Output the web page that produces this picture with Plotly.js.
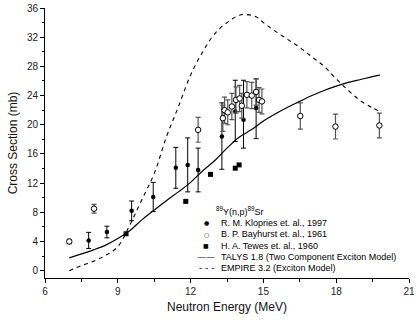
<!DOCTYPE html>
<html>
<head>
<meta charset="utf-8">
<script src="https://cdn.plot.ly/plotly-3.0.1.min.js"></script>
<style>html,body{margin:0;padding:0;background:#fff;}#chart{width:416px;height:320px;}</style>
</head>
<body>
<div id="chart"></div>
<script>
// Kloppries et al., 1997 (filled circles)
const klopE     = [7.8, 8.55, 9.57, 10.46, 11.39, 11.88, 12.31, 13.29, 13.84, 14.18, 14.7];
const klopXS    = [4.15, 5.3, 8.2, 10.1, 14.1, 14.5, 13.8, 18.4, 21.8, 20.7, 22.3];
const klopErrUp = [1.1, 0.8, 1.35, 2.0, 2.8, 3.7, 3.0, 4.6, 4.3, 5.4, 4.0];
const klopErrDn = [1.1, 0.8, 1.35, 2.0, 2.8, 3.7, 3.0, 4.5, 4.1, 3.9, 4.2];

// Bayhurst et al., 1961 (open circles)
const bayE   = [7.0, 8.02, 12.31, 13.33, 13.4, 13.53, 13.7, 13.87, 14.02, 14.11, 14.32, 14.52, 14.7, 14.82, 14.94, 16.52, 17.97, 19.78];
const bayXS  = [4.0, 8.5, 19.3, 20.9, 22.0, 21.7, 22.5, 23.4, 23.6, 22.6, 24.1, 24.0, 24.5, 23.4, 23.2, 21.2, 19.75, 19.9];
const bayErr = [0.3, 0.6, 1.7, 1.8, 1.8, 1.7, 1.8, 1.8, 1.8, 1.7, 1.8, 1.8, 1.8, 1.7, 1.7, 1.8, 1.7, 1.7];

// Tewes et al., 1960 (filled squares)
const tewE  = [9.34, 11.8, 12.82, 13.84, 14.0];
const tewXS = [5.06, 9.5, 13.2, 14.05, 14.5];

// TALYS 1.8 (solid)
const talysE  = [7.0, 7.5, 8.0, 8.5, 9.0, 9.5, 10.0, 10.5, 11.0, 11.5, 12.0, 12.5, 13.0, 13.5, 14.0, 14.5, 15.0, 15.5, 16.0, 16.5, 17.0, 17.5, 18.0, 18.5, 19.0, 19.5, 19.8];
const talysXS = [1.75, 2.3, 2.85, 3.5, 4.4, 5.5, 7.0, 8.3, 9.6, 10.8, 12.1, 13.7, 15.1, 16.8, 18.3, 19.3, 20.5, 21.5, 22.4, 23.2, 24.0, 24.7, 25.3, 25.8, 26.2, 26.6, 26.8];

// EMPIRE 3.2 (dashed)
const empE  = [7.0, 7.5, 8.0, 8.5, 9.0, 9.5, 10.0, 10.5, 11.0, 11.5, 12.0, 12.5, 13.0, 13.5, 14.0, 14.3, 14.7, 15.0, 15.5, 16.0, 16.5, 17.0, 17.5, 18.0, 18.5, 19.0, 19.5, 19.8];
const empXS = [0.0, 0.7, 1.3, 2.1, 3.3, 6.3, 9.8, 13.3, 18.3, 22.5, 26.8, 30.0, 32.5, 34.0, 35.0, 35.1, 34.8, 34.0, 32.8, 31.7, 30.6, 29.3, 28.0, 26.3, 24.7, 23.3, 22.3, 21.8];

// legend texts
const legendTitle = "<sup>89</sup>Y(n,p)<sup>89</sup>Sr";
const legendNames = ["R. M. Klopries et. al., 1997", "B. P. Bayhurst et. al., 1961", "H. A. Tewes et. al., 1960", "TALYS 1.8 (Two Component Exciton Model)", "EMPIRE 3.2 (Exciton Model)"];
const legendKeys  = ["●", "○", "■", "——", "- - -"];

const FONT = "'Liberation Sans', Arial, sans-serif";

const traces = [
  {x: empE, y: empXS, mode: 'lines', line: {color: '#000', width: 1.1, dash: '4px,4px', shape: 'spline'}, hoverinfo: 'skip'},
  {x: talysE, y: talysXS, mode: 'lines', line: {color: '#000', width: 1.2, shape: 'spline'}, hoverinfo: 'skip'},
  {x: klopE, y: klopXS, mode: 'markers', marker: {symbol: 'circle', size: 4.5, color: '#000'},
   error_y: {type: 'data', symmetric: false, array: klopErrUp, arrayminus: klopErrDn, color: '#000', thickness: 1, width: 2.5}},
  {x: bayE, y: bayXS, mode: 'markers', marker: {symbol: 'circle', size: 5.5, color: '#fff', line: {color: '#000', width: 1}},
   error_y: {type: 'data', array: bayErr, color: '#555', thickness: 1.2, width: 2.5}},
  {x: tewE, y: tewXS, mode: 'markers', marker: {symbol: 'square', size: 5, color: '#000'}}
];

// legend block, placed in axis units
const keyX = 12.64, textX = 13.16, titleX = 12.95;
const rowY = [6.57, 5.0, 3.42, 1.92, 0.41], titleY = 8.12;
const annotations = [{x: titleX, y: titleY, xref: 'x', yref: 'y', text: legendTitle, showarrow: false, xanchor: 'left', yanchor: 'middle', font: {family: FONT, size: 9, color: '#000'}}];
legendNames.forEach((n, i) => {
  annotations.push({x: textX, y: rowY[i], xref: 'x', yref: 'y', text: n, showarrow: false, xanchor: 'left', yanchor: 'middle', font: {family: FONT, size: 9, color: '#000'}});
  annotations.push({x: keyX, y: rowY[i], xref: 'x', yref: 'y', text: legendKeys[i], showarrow: false, xanchor: 'center', yanchor: 'middle', font: {family: "'DejaVu Sans', sans-serif", size: (i < 3 ? 6 : 9), color: '#000'}});
});

const layout = {
  width: 416, height: 320,
  margin: {l: 45, r: 7, t: 8, b: 42.3},
  paper_bgcolor: '#fff', plot_bgcolor: '#fff',
  showlegend: false,
  font: {family: FONT, size: 10, color: '#000'},
  xaxis: {
    range: [6, 21], tick0: 6, dtick: 3, ticks: 'outside', ticklen: 4, tickwidth: 1, tickcolor: '#000',
    showline: true, linecolor: '#000', linewidth: 1, showgrid: false, zeroline: false,
    ticklabeloverflow: 'allow',
    minor: {dtick: 1.5, ticks: 'outside', ticklen: 2.5, tickcolor: '#000', showgrid: false},
    tickfont: {family: FONT, size: 10, color: '#222'},
    title: {text: 'Neutron Energy (MeV)', font: {family: FONT, size: 12, color: '#111'}, standoff: 6}
  },
  yaxis: {
    range: [-1, 36], tick0: 0, dtick: 4, ticks: 'outside', ticklen: 4, tickwidth: 1, tickcolor: '#000',
    showline: true, linecolor: '#000', linewidth: 1, showgrid: false, zeroline: false,
    ticklabeloverflow: 'allow',
    minor: {dtick: 2, ticks: 'outside', ticklen: 2.5, tickcolor: '#000', showgrid: false},
    tickfont: {family: FONT, size: 10, color: '#222'},
    title: {text: 'Cross Section (mb)', font: {family: FONT, size: 12, color: '#111'}, standoff: 6}
  },
  annotations: annotations
};

Plotly.newPlot('chart', traces, layout, {displayModeBar: false, staticPlot: true});
</script>
</body>
</html>
